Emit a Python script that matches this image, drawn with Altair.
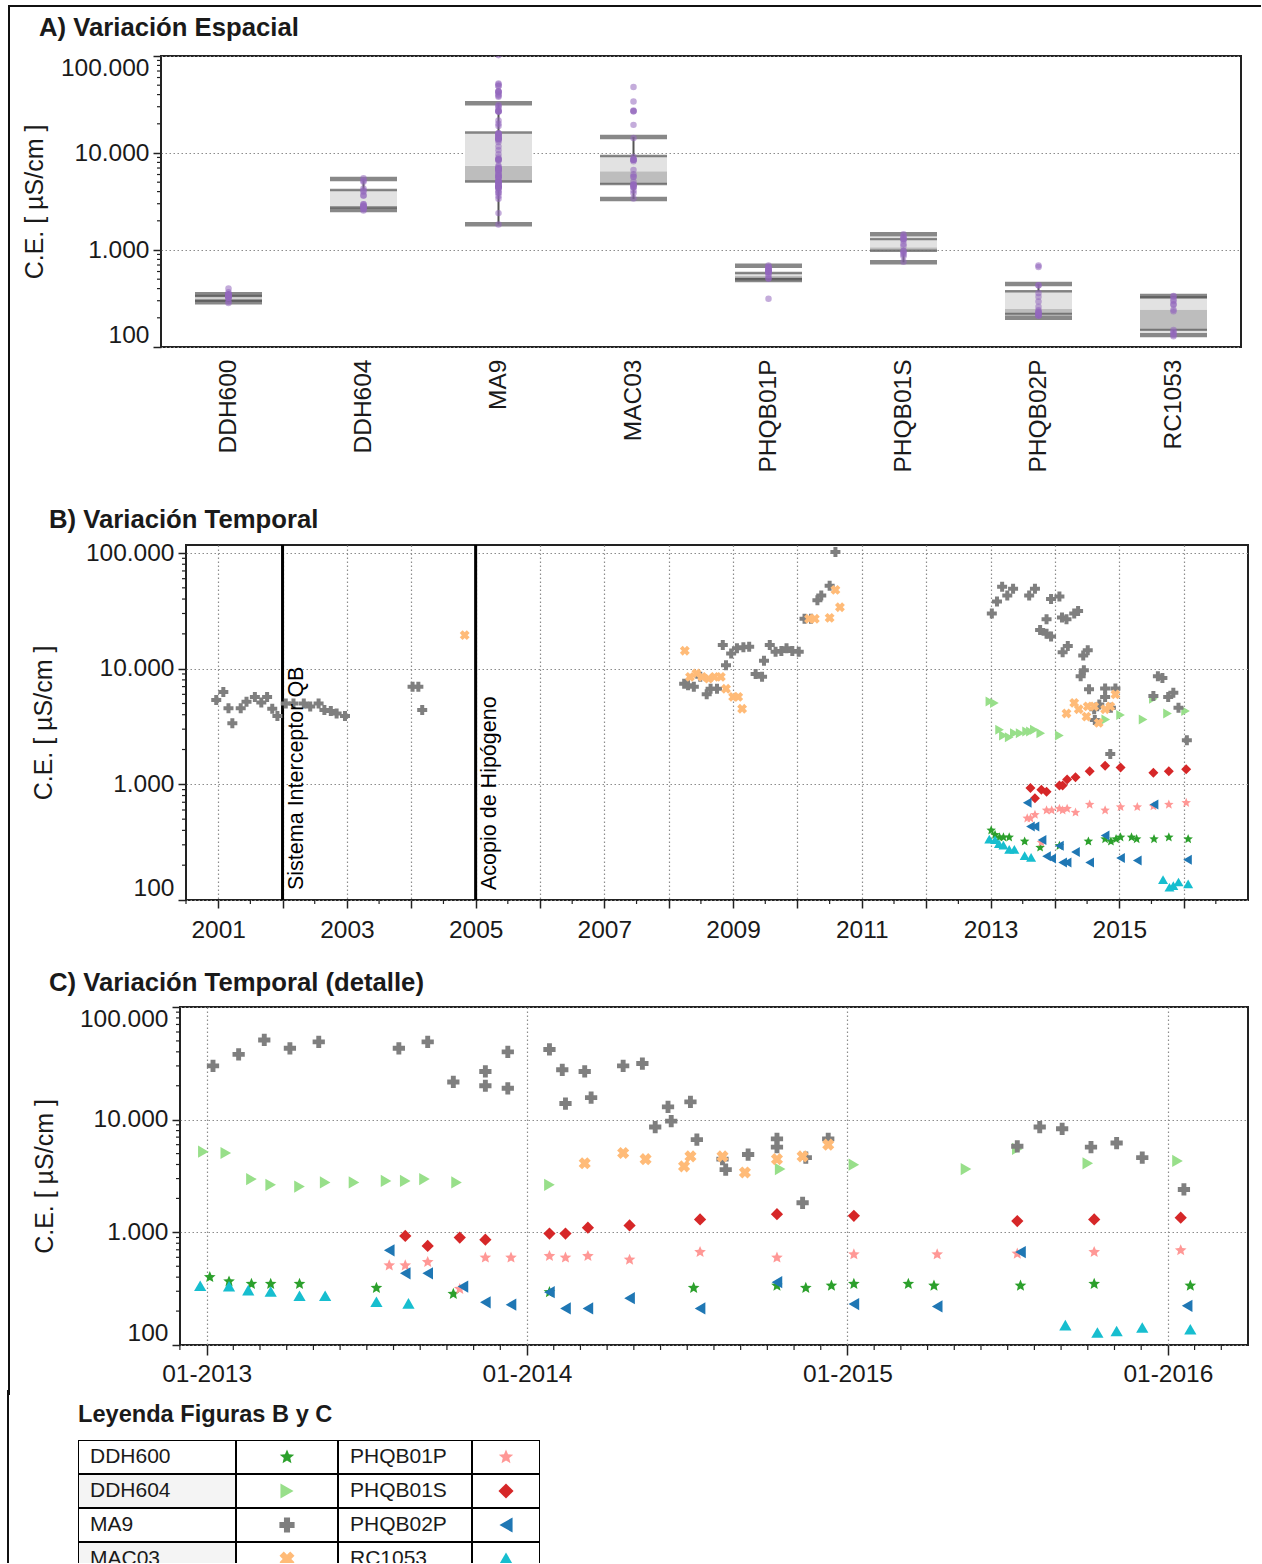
import altair as alt
import pandas as pd

# ------------------------------------------------------------------ data
STATIONS = ["DDH600", "DDH604", "MA9", "MAC03", "PHQB01P", "PHQB01S", "PHQB02P", "RC1053"]

DDH600_t = [2013.01, 2013.07, 2013.14, 2013.20, 2013.29, 2013.53, 2013.77, 2014.07, 2014.52, 2014.78,
            2014.87, 2014.95, 2015.02, 2015.19, 2015.27, 2015.54, 2015.77, 2016.07]
DDH600_v = [400, 366, 348, 348, 348, 321, 284, 294, 321, 336, 321, 336, 348, 348, 336, 336, 348, 336]

DDH604_t = [2012.99, 2013.06, 2013.14, 2013.20, 2013.29, 2013.37, 2013.46, 2013.56, 2013.62, 2013.68,
            2013.78, 2014.07, 2014.79, 2015.02, 2015.37, 2015.53, 2015.75, 2016.03]
DDH604_v = [5200, 5060, 2970, 2640, 2550, 2770, 2770, 2860, 2860, 2970, 2770, 2640, 3640, 3980, 3640,
            5500, 4100, 4300]

MA9_t = [2000.97, 2001.08, 2001.16, 2001.22, 2001.35, 2001.44, 2001.57, 2001.67, 2001.76, 2001.84,
         2001.92, 2002.05, 2002.17, 2002.33, 2002.43, 2002.56, 2002.65, 2002.75, 2002.84, 2002.97,
         2004.02, 2004.11, 2004.17,
         2008.24, 2008.30, 2008.39, 2008.49, 2008.59, 2008.65, 2008.75, 2008.84, 2008.89, 2008.97,
         2009.06, 2009.16, 2009.25, 2009.35, 2009.45, 2009.48, 2009.57, 2009.66, 2009.75, 2009.83,
         2009.92, 2010.02, 2010.11, 2010.21, 2010.31, 2010.37, 2010.50, 2010.59,
         2013.02, 2013.10, 2013.18, 2013.26, 2013.35, 2013.60, 2013.69, 2013.77, 2013.87, 2013.87,
         2013.94, 2013.94, 2014.07, 2014.11, 2014.12, 2014.18, 2014.20, 2014.30, 2014.36, 2014.40,
         2014.44, 2014.45, 2014.51, 2014.53, 2014.61, 2014.62, 2014.69, 2014.78, 2014.78, 2014.86,
         2014.87, 2014.94, 2015.53, 2015.60, 2015.67, 2015.76, 2015.84, 2015.92, 2016.05]
MA9_v = [5360, 6300, 4540, 3370, 4540, 5180, 5700, 5100, 5700, 4500,
         3900, 5000, 5000, 5000, 4700, 5000, 4400, 4300, 4100, 3900,
         6970, 6970, 4400,
         7400, 7200, 6970, 8500, 6000, 6700, 6700, 16000, 10700, 13500,
         15000, 15300, 15500, 9000, 8500, 11700, 16000, 14000, 14200, 15000,
         14200, 14000, 27000, 27000, 39000, 43000, 52000, 102000,
         30000, 38000, 51000, 43000, 49000, 43000, 49000, 21600, 26800, 20000,
         40000, 19000, 42000, 27700, 13900, 26800, 15700, 30000, 31500, 8600,
         13000, 9700, 14400, 6650, 4460, 3600, 4900, 6750, 5700, 1830,
         4600, 6750, 5800, 8600, 8300, 5700, 6200, 4600, 2400]

MAC03_t = [2004.83, 2008.25, 2008.33, 2008.43, 2008.52, 2008.62, 2008.71, 2008.81, 2008.89, 2009.00,
           2009.08, 2009.14, 2010.18, 2010.27, 2010.50, 2010.59, 2010.66, 2014.18, 2014.30, 2014.37,
           2014.49, 2014.51, 2014.61, 2014.68, 2014.78, 2014.86, 2014.94]
MAC03_v = [19500, 14300, 8500, 9100, 8500, 8200, 8500, 8500, 6700, 5700,
           5700, 4500, 27000, 27000, 27500, 48000, 34000, 4100, 5060, 4460,
           3850, 4720, 4720, 3400, 4460, 4720, 6000]

PHQB01P_t = [2013.57, 2013.62, 2013.69, 2013.79, 2013.87, 2013.95, 2014.07, 2014.12, 2014.19, 2014.32,
             2014.54, 2014.78, 2015.02, 2015.28, 2015.53, 2015.77, 2016.04]
PHQB01P_v = [508, 508, 545, 314, 596, 596, 616, 596, 616, 571, 668, 596, 637, 637, 646, 668, 692]

PHQB01S_t = [2013.62, 2013.69, 2013.79, 2013.87, 2014.07, 2014.12, 2014.19, 2014.32, 2014.54, 2014.78,
             2015.02, 2015.53, 2015.77, 2016.04]
PHQB01S_v = [930, 757, 898, 861, 975, 975, 1100, 1150, 1300, 1450, 1400, 1260, 1300, 1350]

PHQB02P_t = [2013.57, 2013.62, 2013.69, 2013.80, 2013.87, 2013.95, 2014.07, 2014.12, 2014.19, 2014.32,
             2014.54, 2014.78, 2015.02, 2015.28, 2015.54, 2016.06]
PHQB02P_v = [692, 433, 433, 330, 239, 228, 294, 211, 211, 260, 211, 361, 231, 220, 668, 223]

RC1053_t = [2012.98, 2013.07, 2013.13, 2013.20, 2013.29, 2013.37, 2013.53, 2013.63, 2015.68, 2015.78,
            2015.84, 2015.92, 2016.07]
RC1053_v = [336, 332, 307, 298, 274, 274, 242, 234, 150, 129, 133, 143, 138]

# box statistics (panel A)
BOX_HI = [350, 5400, 32500, 14600, 690, 1450, 446, 335]
BOX_Q3 = [335, 4160, 16300, 9300, 580, 1300, 375, 325]
BOX_MED = [318, 2780, 7400, 6500, 540, 1070, 247, 243]
BOX_Q1 = [300, 2740, 5070, 4800, 500, 984, 219, 150]
BOX_LO = [290, 2580, 1840, 3360, 490, 747, 200, 133]

EVENT_T = [2002.0, 2005.0]
EVENT_LABEL = ["Sistema Interceptor QB", "Acopio de Hipógeno"]

MAJOR_Y = [100, 1000, 10000, 100000]
MINOR_Y = [k * 10 ** e for e in (2, 3, 4) for k in range(2, 10)]
YEARS_B = list(range(2001, 2017))
MINOR_B = [y + 0.5 for y in range(2000, 2017)]
YEARS_C = [2013, 2014, 2015, 2016]
MINOR_C = [2012 + 11 / 12] + [y + m / 12 for y in range(2013, 2017) for m in range(1, 12) if y + m / 12 < 2016.25]

TITLE_A = "A) Variación Espacial"
TITLE_B = "B) Variación Temporal"
TITLE_C = "C) Variación Temporal (detalle)"
TITLE_L = "Leyenda Figuras B y C"
YTITLE = "C.E. [ µS/cm ]"

# ------------------------------------------------------------------ styles
FONT = "Liberation Sans"
TXT = "#1a1a1a"
DARK = "#555555"
FRAME = "#111111"
COLORS = ["#2ca02c", "#98df8a", "#7f7f7f", "#ffbb78", "#ff9896", "#d62728", "#1f77b4", "#17becf"]
STAR = ("M0,-1L0.265,-0.364L0.951,-0.309L0.428,0.139L0.588,0.809L0,0.45L-0.588,0.809"
        "L-0.428,0.139L-0.951,-0.309L-0.265,-0.364Z")
XSHAPE = ("M-0.424,-0.99L-0.99,-0.424L-0.566,0L-0.99,0.424L-0.424,0.99L0,0.566L0.424,0.99"
          "L0.99,0.424L0.566,0L0.99,-0.424L0.424,-0.99L0,-0.566Z")
SHAPES = [STAR, "triangle-right", "cross", XSHAPE, STAR, "diamond", "triangle-left", "triangle-up"]
LBL_Y = "replace(format(datum.value, ','), ',', '.')"
OVERLAP = 6  # rows overlap slightly so the page frame segments join

series_t = [DDH600_t, DDH604_t, MA9_t, MAC03_t, PHQB01P_t, PHQB01S_t, PHQB02P_t, RC1053_t]
series_v = [DDH600_v, DDH604_v, MA9_v, MAC03_v, PHQB01P_v, PHQB01S_v, PHQB02P_v, RC1053_v]
rows = []
for s, ts, vs in zip(STATIONS, series_t, series_v):
    for t, v in zip(ts, vs):
        rows.append({"station": s, "t": t, "ce": v})
pts = pd.DataFrame(rows)

box = pd.DataFrame({"station": STATIONS, "lo": BOX_LO, "q1": BOX_Q1, "med": BOX_MED,
                    "q3": BOX_Q3, "hi": BOX_HI})
one = pd.DataFrame({"k": [0]})
shape_enc = alt.Shape("station:N", scale=alt.Scale(domain=STATIONS, range=SHAPES), legend=None)
color_enc = alt.Color("station:N", scale=alt.Scale(domain=STATIONS, range=COLORS), legend=None)


def frame_left(origin_x, y1, y2):
    # outer page frame (left side), a thin filled rect at absolute x = 7..9
    return alt.Chart(one).mark_rect(color=FRAME).encode(
        x=alt.value(7 - origin_x), x2=alt.value(9 - origin_x), y=alt.value(y1), y2=alt.value(y2))


def title_text(text, x, y, size):
    return alt.Chart(pd.DataFrame({"t": [text]})).mark_text(
        align="left", baseline="alphabetic", fontSize=size, fontWeight="bold", font=FONT, color=TXT
    ).encode(x=alt.value(x), y=alt.value(y), text="t:N")


# ------------------------------------------------------------------ panel A
A_W, A_H = 1080, 291
ysA = alt.Scale(type="log", domain=[100, 100000], nice=False)
yaxA = alt.Axis(title=YTITLE, values=MAJOR_Y, labelExpr=LBL_Y, tickSize=8, labelPadding=4,
                labelFlush=True, titleX=-119, titleBaseline="alphabetic", grid=True)
xA = alt.X("station:N", scale=alt.Scale(domain=STATIONS, paddingInner=0, paddingOuter=0),
           axis=alt.Axis(title=None, labelAngle=270, ticks=False, labelPadding=12, grid=False))


def yA(f):
    return alt.Y(f, scale=ysA, axis=yaxA)


bA = alt.Chart(box)
A = alt.layer(
    bA.mark_rule(color=DARK, strokeWidth=2).encode(x=xA, y=yA("lo:Q"), y2="hi:Q"),
    bA.mark_bar(size=67, color="#bdbdbd").encode(x=xA, y=yA("q1:Q"), y2="med:Q"),
    bA.mark_bar(size=67, color="#e2e2e2").encode(x=xA, y=yA("med:Q"), y2="q3:Q"),
    bA.mark_tick(size=67, thickness=2.5, color=DARK).encode(x=xA, y=yA("q3:Q")),
    bA.mark_tick(size=67, thickness=2.5, color=DARK).encode(x=xA, y=yA("q1:Q")),
    bA.mark_tick(size=67, thickness=4.5, color=DARK).encode(x=xA, y=yA("hi:Q")),
    bA.mark_tick(size=67, thickness=4.5, color=DARK).encode(x=xA, y=yA("lo:Q")),
    alt.Chart(pts).mark_circle(size=42, color="#9467bd", opacity=0.55, clip=True).encode(
        x=xA, y=yA("ce:Q")),
    alt.Chart(pd.DataFrame({"v": MINOR_Y})).mark_rule(color="#222", strokeWidth=1.2).encode(
        y=yA("v:Q"), x=alt.value(0), x2=alt.value(-4)),
    frame_left(160, -51, 438),
    alt.Chart(one).mark_rect(color=FRAME).encode(
        x=alt.value(-153), x2=alt.value(1100), y=alt.value(-51), y2=alt.value(-49)),
    title_text(TITLE_A, -122, -20, 25.7),
).properties(width=A_W, height=A_H)


# ------------------------------------------------------------------ panels B and C
def time_panel(data, xdom, xvals, xlabel, tick_major, lab_pad, minors, ydom, W, H,
               ytitle_x, origin_x, frame_y1, frame_y2, title, title_x, title_y, psize, events):
    xs = alt.Scale(domain=xdom, nice=False, zero=False)
    xax = alt.Axis(title=None, values=xvals, labelExpr=xlabel, tickSize=tick_major,
                   labelPadding=lab_pad, grid=True)
    ys = alt.Scale(type="log", domain=ydom, nice=False)
    yax = alt.Axis(title=YTITLE, values=MAJOR_Y, labelExpr=LBL_Y, tickSize=8, labelPadding=4,
                   labelFlush=True, titleX=ytitle_x, titleBaseline="alphabetic", grid=True)

    def X(f):
        return alt.X(f, scale=xs, axis=xax)

    def Y(f):
        return alt.Y(f, scale=ys, axis=yax)

    layers = []
    if events:
        ev = pd.DataFrame({"t": EVENT_T, "label": EVENT_LABEL})
        layers.append(alt.Chart(ev).mark_rule(color="black", strokeWidth=3).encode(x=X("t:Q")))
    layers.append(alt.Chart(data).mark_point(filled=True, size=psize, opacity=1).encode(
        x=X("t:Q"), y=Y("ce:Q"), shape=shape_enc, color=color_enc))
    if events:
        layers.append(alt.Chart(ev).mark_text(
            angle=270, align="left", baseline="top", dx=10, dy=3, fontSize=21.5, font=FONT,
            color="black").encode(x=X("t:Q"), y=alt.value(H), text="label:N"))
    layers.append(alt.Chart(pd.DataFrame({"v": MINOR_Y})).mark_rule(
        color="#222", strokeWidth=1.2).encode(y=Y("v:Q"), x=alt.value(0), x2=alt.value(-4)))
    layers.append(alt.Chart(pd.DataFrame({"m": minors})).mark_rule(
        color="#222", strokeWidth=1.2).encode(x=X("m:Q"), y=alt.value(H), y2=alt.value(H + tick_major / 2)))
    layers.append(frame_left(origin_x, frame_y1, frame_y2))
    layers.append(title_text(title, title_x, title_y, 25.7))
    return alt.layer(*layers).properties(width=W, height=H)


B = time_panel(pts, [2000.5, 2017.0], YEARS_B, "datum.value % 2 == 1 ? '' + datum.value : ''",
               8, 10, MINOR_B, [100, 117300], 1062, 355, -135, 185, -49 - OVERLAP, 410,
               TITLE_B, -137, -17, 100, True)

ptsC = pts[pts["t"] >= 2012.92]
C = time_panel(ptsC, [2012.917, 2016.25], YEARS_C, "'01-' + datum.value",
               10, 7, MINOR_C, [100, 100000], 1068, 338, -128, 179, -50 - OVERLAP, 388,
               TITLE_C, -131, -16, 150, False)

# ------------------------------------------------------------------ legend table
COL_EDGES = [0, 158, 260, 394, 462]
ROW_H = 34
L_W, L_H = 462, 123
LEFT = STATIONS[:4]
RIGHT = STATIONS[4:]
cells, names, syms = [], [], []
for r in range(4):
    for c in range(4):
        cells.append({"x": COL_EDGES[c], "x2": COL_EDGES[c + 1], "y": r, "y2": r + 1,
                      "fill": "#f4f4f4" if (c == 0 and r % 2 == 1) else "#ffffff"})
    names.append({"x": COL_EDGES[0], "y": r + 0.5, "name": LEFT[r]})
    names.append({"x": COL_EDGES[2], "y": r + 0.5, "name": RIGHT[r]})
    syms.append({"x": (COL_EDGES[1] + COL_EDGES[2]) / 2, "y": r + 0.5, "station": LEFT[r]})
    syms.append({"x": (COL_EDGES[3] + COL_EDGES[4]) / 2, "y": r + 0.5, "station": RIGHT[r]})

xsL = alt.Scale(domain=[0, L_W], nice=False, zero=False)
ysL = alt.Scale(domain=[0, L_H / ROW_H], nice=False, zero=False, reverse=True)
L = alt.layer(
    alt.Chart(pd.DataFrame(cells)).mark_rect(stroke="black", strokeWidth=2, clip=True).encode(
        x=alt.X("x:Q", scale=xsL, axis=None), x2="x2:Q",
        y=alt.Y("y:Q", scale=ysL, axis=None), y2="y2:Q",
        fill=alt.Fill("fill:N", scale=None)),
    alt.Chart(pd.DataFrame(names)).mark_text(
        align="left", baseline="middle", dx=12, fontSize=21, font=FONT, color=TXT, clip=True).encode(
        x=alt.X("x:Q", scale=xsL, axis=None), y=alt.Y("y:Q", scale=ysL, axis=None), text="name:N"),
    alt.Chart(pd.DataFrame(syms)).mark_point(filled=True, size=230, opacity=1, clip=True).encode(
        x=alt.X("x:Q", scale=xsL, axis=None), y=alt.Y("y:Q", scale=ysL, axis=None),
        shape=shape_enc, color=color_enc),
    frame_left(78, -44 - OVERLAP, L_H),
    title_text(TITLE_L, 0, -18, 23.6),
).properties(width=L_W, height=L_H, view=alt.ViewBackground(stroke="transparent", strokeWidth=0))

# ------------------------------------------------------------------ layout
spacer = alt.Chart(one).mark_rule(opacity=0, strokeWidth=0).encode(
    x=alt.value(0), y=alt.value(0), y2=alt.value(1)
).properties(width=1, height=1, view=alt.ViewBackground(stroke="transparent", strokeWidth=0))


def row(p):
    return alt.hconcat(spacer, p, spacing=0)


chart = alt.vconcat(row(A), row(B), row(C), row(L), spacing=-OVERLAP).properties(
    padding={"left": 6, "top": 4, "right": 0, "bottom": 0}, background="white"
).configure_axis(
    labelFont=FONT, titleFont=FONT, labelFontSize=24.5, titleFontSize=25, titleFontWeight="normal",
    labelColor=TXT, titleColor=TXT, tickColor="#222", tickWidth=1.5, domain=False,
    gridColor="#8c8c8c", gridDash=[1.5, 2.5], gridWidth=1.2, labelOverlap=False
).configure_view(stroke="#222", strokeWidth=2).configure_text(font=FONT)

chart.save("out.html", embed_options={"renderer": "svg", "actions": False})
